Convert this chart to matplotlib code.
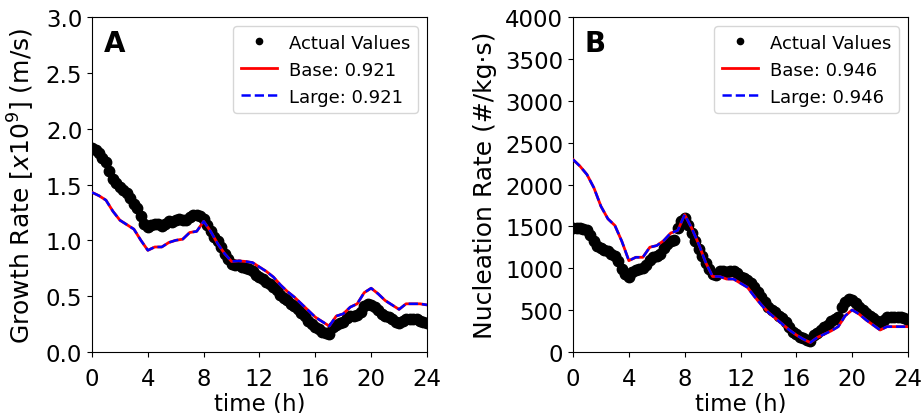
import numpy as np
from matplotlib import pyplot as plt

# growth rate, actual values every 0.25 h
growth_actual = [1.83, 1.81, 1.78, 1.74, 1.70, 1.62, 1.55, 1.51, 1.48, 1.45, 1.42, 1.38,
                 1.33, 1.29, 1.22, 1.15, 1.12, 1.14, 1.15, 1.15, 1.13, 1.15, 1.17, 1.16,
                 1.18, 1.19, 1.18, 1.18, 1.21, 1.23, 1.23, 1.22, 1.19, 1.14, 1.08, 1.03,
                 0.99, 0.94, 0.88, 0.83, 0.79, 0.78, 0.78, 0.76, 0.75, 0.74, 0.72, 0.69,
                 0.67, 0.65, 0.63, 0.61, 0.58, 0.55, 0.51, 0.48, 0.46, 0.43, 0.41, 0.38,
                 0.35, 0.32, 0.28, 0.25, 0.22, 0.20, 0.18, 0.17, 0.16, 0.22, 0.24, 0.26,
                 0.27, 0.30, 0.32, 0.32, 0.33, 0.36, 0.41, 0.43, 0.42, 0.40, 0.37, 0.34,
                 0.32, 0.31, 0.29, 0.27, 0.26, 0.28, 0.29, 0.29, 0.29, 0.29, 0.28, 0.27,
                 0.26]
# model predictions every 0.5 h (base and large overlap)
growth_base = [1.43, 1.40, 1.36, 1.26, 1.18, 1.14, 1.10, 1.00, 0.91, 0.94, 0.94, 0.98,
               1.00, 1.01, 1.07, 1.08, 1.17, 1.08, 0.97, 0.88, 0.81, 0.815, 0.81, 0.80,
               0.76, 0.72, 0.67, 0.60, 0.54, 0.49, 0.43, 0.37, 0.31, 0.27, 0.23, 0.32,
               0.34, 0.40, 0.43, 0.53, 0.57, 0.52, 0.46, 0.42, 0.38, 0.43, 0.43, 0.43,
               0.42]
growth_large = list(growth_base)

nuc_actual = [1480, 1480, 1475, 1470, 1460, 1400, 1330, 1270, 1240, 1220, 1200, 1170,
              1150, 1080, 990, 930, 890, 950, 980, 990, 1000, 1040, 1100, 1130,
              1150, 1170, 1240, 1290, 1320, 1340, 1480, 1570, 1600, 1520, 1420, 1320,
              1230, 1150, 1060, 990, 930, 920, 960, 960, 950, 960, 960, 940,
              900, 880, 860, 820, 770, 720, 660, 590, 540, 500, 470, 430,
              400, 350, 290, 240, 210, 180, 160, 140, 130, 200, 230, 260,
              290, 320, 370, 390, 420, 540, 590, 630, 620, 580, 540, 500,
              460, 430, 400, 370, 330, 380, 410, 420, 420, 420, 410, 400,
              380]
nuc_base = [2300, 2220, 2120, 1960, 1740, 1590, 1510, 1320, 1090, 1130, 1130, 1250,
            1270, 1330, 1420, 1450, 1640, 1480, 1290, 1070, 900, 900, 870, 870,
            820, 770, 660, 560, 470, 400, 330, 260, 200, 150, 110, 170,
            210, 250, 300, 430, 500, 450, 380, 320, 260, 300, 300, 300,
            300]
nuc_large = list(nuc_base)

t_actual = np.linspace(0, 24, len(growth_actual))
t_model = np.linspace(0, 24, len(growth_base))

plt.rcParams['font.family'] = 'DejaVu Sans'
fig = plt.figure(figsize=(9.22, 4.14), dpi=100)
ax1 = fig.add_axes([0.0998, 0.148, 0.3633, 0.8075])
ax2 = fig.add_axes([0.6215, 0.148, 0.3633, 0.8075])

panels = [
    (ax1, growth_actual, growth_base, growth_large, 'Base: 0.921', 'Large: 0.921',
     r'Growth Rate [$x10^9$] (m/s)', 3.0, np.arange(0, 3.01, 0.5), 'A'),
    (ax2, nuc_actual, nuc_base, nuc_large, 'Base: 0.946', 'Large: 0.946',
     'Nucleation Rate (#/kg·s)', 4000, np.arange(0, 4001, 500), 'B'),
]

for ax, act, base, large, lb, ll, ylab, ymax, yt, tag in panels:
    ax.plot(t_actual, act, 'o', color='k', ms=7.5, label='Actual Values', zorder=2)
    ax.plot(t_model, base, '-', color='red', lw=2, label=lb, zorder=3)
    ax.plot(t_model, large, '--', color='blue', lw=1.8, label=ll, zorder=4)
    ax.set_xlim(0, 24)
    ax.set_ylim(0, ymax)
    ax.set_xticks([0, 4, 8, 12, 16, 20, 24])
    ax.set_yticks(yt)
    if ymax == 3.0:
        ax.set_yticklabels(['%.1f' % v for v in yt])
    ax.tick_params(labelsize=16.5)
    ax.tick_params(axis='x', pad=7.5)
    ax.set_xlabel('time (h)', fontsize=16.5, labelpad=1)
    ax.set_ylabel(ylab, fontsize=18, labelpad=6)
    ax.text(0.035, 0.965, tag, transform=ax.transAxes, fontsize=20, fontweight='bold',
            va='top', ha='left')
    ax.legend(loc='upper right', fontsize=13, handlelength=2, borderpad=0.4,
              labelspacing=0.5, handletextpad=0.7, markerscale=0.6)

plt.savefig('out.png', dpi=100)
